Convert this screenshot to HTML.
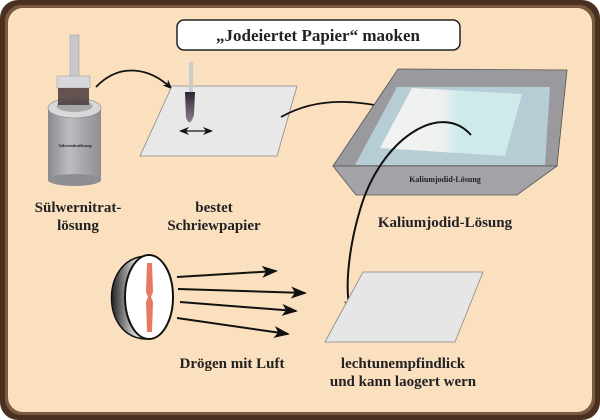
<!DOCTYPE html>
<html><head><meta charset="utf-8"><style>
html,body{margin:0;padding:0;width:600px;height:420px;overflow:hidden;background:#fff}
svg{display:block}
text{font-family:"Liberation Serif",serif;font-weight:bold;fill:#222}
</style></head><body>
<svg width="600" height="420" viewBox="0 0 600 420" xmlns="http://www.w3.org/2000/svg">
<defs>
<marker id="ah" markerWidth="10" markerHeight="8" refX="8" refY="4" orient="auto-start-reverse" markerUnits="userSpaceOnUse"><path d="M0,0 L10,4 L0,8 L3,4Z" fill="#111"/></marker>
<marker id="ahb" markerWidth="16" markerHeight="12" refX="14" refY="6" orient="auto" markerUnits="userSpaceOnUse"><path d="M0,0 L16,6 L0,12 L4,6Z" fill="#111"/></marker>
<linearGradient id="can" x1="0" x2="1"><stop offset="0" stop-color="#8a8a8e"/><stop offset="0.4" stop-color="#bdbdc1"/><stop offset="1" stop-color="#8e8e92"/></linearGradient>
<linearGradient id="shell" x1="0" x2="1"><stop offset="0" stop-color="#222"/><stop offset="0.7" stop-color="#ddd"/><stop offset="1" stop-color="#fff"/></linearGradient>
<linearGradient id="tp" x1="0" x2="1"><stop offset="0" stop-color="#f2f2f2"/><stop offset="0.45" stop-color="#eef0f0"/><stop offset="0.55" stop-color="#cfeaea"/><stop offset="1" stop-color="#cfeaea"/></linearGradient>
<linearGradient id="br" x1="0" x2="0" y1="0" y2="1"><stop offset="0" stop-color="#2e2433"/><stop offset="1" stop-color="#8a8090"/></linearGradient>
</defs>
<rect x="0" y="0" width="600" height="420" rx="18" fill="#4a3020"/>
<rect x="5" y="5" width="590" height="410" rx="16" fill="#7a5a3c"/>
<rect x="8" y="8" width="584" height="404" rx="15" fill="#fbe0c0"/>
<!-- title -->
<rect x="177" y="20" width="283" height="30" rx="7" fill="#fff" stroke="#222" stroke-width="1.5"/>
<text x="318" y="41" font-size="17" text-anchor="middle">„Jodeiertet Papier“ maoken</text>
<!-- bottle -->
<rect x="48" y="108" width="53" height="72" fill="url(#can)"/>
<ellipse cx="74.5" cy="180" rx="26.5" ry="6" fill="#8e8e92"/>
<ellipse cx="74.5" cy="108" rx="26.5" ry="10" fill="#d8d8da" stroke="#888" stroke-width="0.6"/>
<ellipse cx="74.5" cy="106" rx="18" ry="6" fill="#777" opacity="0.5"/>
<rect x="70" y="35" width="9" height="42" fill="#c8c8cc" stroke="#999" stroke-width="0.5"/>
<rect x="57" y="76" width="33" height="12" fill="#d8d8dc" stroke="#999" stroke-width="0.5"/>
<rect x="58" y="88" width="31" height="17" fill="#4a3a3a" opacity="0.85"/>
<text x="75" y="147" font-size="4" text-anchor="middle" fill="#333">Sülwernitratlösung</text>
<path d="M96,87 C120,62 150,68 171,88" fill="none" stroke="#111" stroke-width="1.8" marker-end="url(#ah)"/>
<!-- paper1 -->
<polygon points="172,86 297,86 277,156 140,156" fill="#e8e8e8" stroke="#888" stroke-width="0.8"/>
<rect x="189" y="62" width="4" height="30" fill="#ccc"/>
<path d="M185,92 L195,92 L194,115 Q190,128 186,118Z" fill="url(#br)"/>
<line x1="181" y1="131" x2="211" y2="131" stroke="#111" stroke-width="1.2" marker-end="url(#ah)" marker-start="url(#ah)"/>
<path d="M281,117 C320,95 360,100 413,113" fill="none" stroke="#111" stroke-width="1.8" marker-end="url(#ah)"/>
<!-- tray -->
<polygon points="398,69 567,70 557,166 333,166" fill="#9a9a9e" stroke="#555" stroke-width="0.8"/>
<polygon points="397,87 550,87 545,165 355,165" fill="#b7cdd6"/>
<polygon points="412,88 522,94 505,156 380,148" fill="url(#tp)"/>
<polygon points="333,166 557,166 517,195 356,195" fill="#a4a4a8" stroke="#555" stroke-width="0.8"/>
<text x="445" y="182" font-size="8" text-anchor="middle">Kaliumjodid-Lösung</text>
<path d="M471,135 C440,100 380,140 360,210 C348,250 345,290 350,308" fill="none" stroke="#111" stroke-width="2" marker-end="url(#ah)"/>
<text x="445" y="227" font-size="15" text-anchor="middle">Kaliumjodid-Lösung</text>
<!-- labels -->
<text x="78" y="212" font-size="15" text-anchor="middle">Sülwernitrat-</text>
<text x="78" y="230" font-size="15" text-anchor="middle">lösung</text>
<text x="214" y="212" font-size="15" text-anchor="middle">bestet</text>
<text x="214" y="230" font-size="15" text-anchor="middle">Schriewpapier</text>
<!-- paper3 -->
<polygon points="363,272 483,272 455,342 325,342" fill="#e6e6e6" stroke="#888" stroke-width="0.8"/>
<text x="403" y="368" font-size="15" text-anchor="middle">lechtunempfindlick</text>
<text x="403" y="386" font-size="15" text-anchor="middle">und kann laogert wern</text>
<!-- fan -->
<path d="M146,256 C100,258 100,338 146,339Z" fill="url(#shell)" stroke="#111" stroke-width="1.5"/>
<ellipse cx="149" cy="297" rx="24" ry="42" fill="#fff" stroke="#111" stroke-width="2"/>
<path d="M147,263 L152,263 L153,292 L151,297 L153,302 L152,332 L147,332 L146,302 L148,297 L146,292Z" fill="#e87860"/>
<line x1="177" y1="277" x2="276" y2="271" stroke="#111" stroke-width="2" marker-end="url(#ahb)"/>
<line x1="178" y1="289" x2="305" y2="293" stroke="#111" stroke-width="2" marker-end="url(#ahb)"/>
<line x1="180" y1="302" x2="296" y2="311" stroke="#111" stroke-width="2" marker-end="url(#ahb)"/>
<line x1="177" y1="318" x2="288" y2="334" stroke="#111" stroke-width="2" marker-end="url(#ahb)"/>
<text x="232" y="368" font-size="15" text-anchor="middle">Drögen mit Luft</text>
</svg>
</body></html>
